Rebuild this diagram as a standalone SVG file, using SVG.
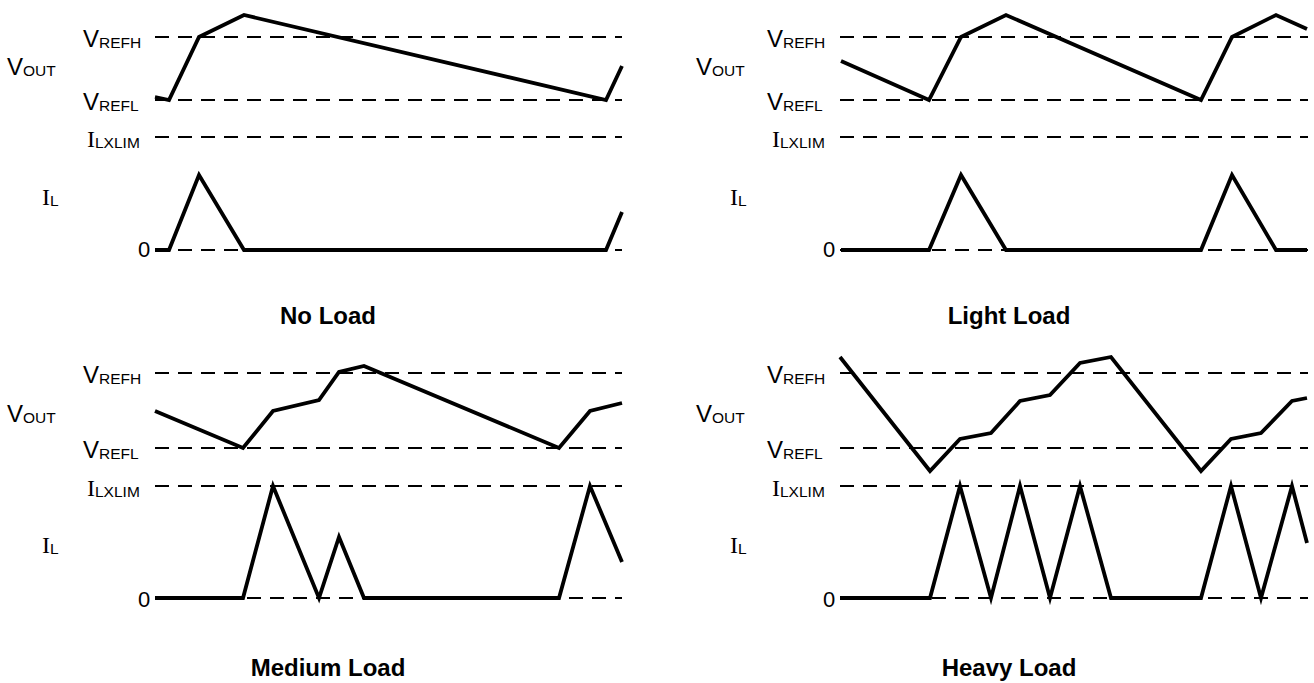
<svg xmlns="http://www.w3.org/2000/svg" width="1314" height="683" viewBox="0 0 1314 683">
<style>
.bg{fill:#fff}
.dash{stroke:#000;stroke-width:2;stroke-dasharray:14 9;fill:none}
.wave{stroke:#000;stroke-width:3.8;fill:none;stroke-linejoin:miter;stroke-linecap:butt}
.lbl{font-family:"Liberation Sans",Arial,sans-serif;font-size:24px;fill:#000}
.zero{font-family:"Liberation Sans",Arial,sans-serif;font-size:22px;fill:#000}
.ser{font-family:"Liberation Serif","Times New Roman",serif;font-size:24px}
.sub{font-size:15.5px}
.title{font-family:"Liberation Sans",Arial,sans-serif;font-size:24px;font-weight:bold;fill:#000;text-anchor:middle}
</style>
<rect class="bg" x="0" y="0" width="1314" height="683"/>

<g id="panel-no-load">
  <g class="labels">
    <text class="lbl" x="7" y="75">V<tspan class="sub" dy="1">OUT</tspan></text>
    <text class="lbl" x="83" y="47">V<tspan class="sub" dy="1">REFH</tspan></text>
    <text class="lbl" x="83" y="110">V<tspan class="sub" dy="1">REFL</tspan></text>
    <text class="lbl" x="87" y="147"><tspan class="ser">I</tspan><tspan class="sub" dy="1">LXLIM</tspan></text>
    <text class="lbl" x="42" y="205"><tspan class="ser">I</tspan><tspan class="sub" dy="1">L</tspan></text>
    <text class="zero" x="138" y="257">0</text>
  </g>
  <g class="refs">
    <line class="dash" x1="155" y1="37" x2="622" y2="37"/>
    <line class="dash" x1="155" y1="100" x2="622" y2="100"/>
    <line class="dash" x1="155" y1="137" x2="622" y2="137"/>
    <line class="dash" x1="155" y1="250" x2="622" y2="250"/>
  </g>
  <polyline class="wave" points="155,97 169,100 199,37 244,15 606,100 622,66"/>
  <polyline class="wave" points="155,250 169,250 199,175 244,250 606,250 622,212"/>
  <text class="title" x="328" y="324">No Load</text>
</g>

<g id="panel-light-load">
  <g class="labels">
    <text class="lbl" x="696" y="75">V<tspan class="sub" dy="1">OUT</tspan></text>
    <text class="lbl" x="767" y="47">V<tspan class="sub" dy="1">REFH</tspan></text>
    <text class="lbl" x="767" y="110">V<tspan class="sub" dy="1">REFL</tspan></text>
    <text class="lbl" x="772" y="147"><tspan class="ser">I</tspan><tspan class="sub" dy="1">LXLIM</tspan></text>
    <text class="lbl" x="730" y="205"><tspan class="ser">I</tspan><tspan class="sub" dy="1">L</tspan></text>
    <text class="zero" x="823" y="257">0</text>
  </g>
  <g class="refs">
    <line class="dash" x1="840" y1="37" x2="1308" y2="37"/>
    <line class="dash" x1="840" y1="100" x2="1308" y2="100"/>
    <line class="dash" x1="840" y1="137" x2="1308" y2="137"/>
    <line class="dash" x1="840" y1="250" x2="1308" y2="250"/>
  </g>
  <polyline class="wave" points="841,61 929,100 961,37 1006,15 1201,100 1232,37 1276,15 1307,29"/>
  <polyline class="wave" points="841,250 929,250 961,175 1006,250 1201,250 1232,175 1276,250 1307,250"/>
  <text class="title" x="1009" y="324">Light Load</text>
</g>

<g id="panel-medium-load">
  <g class="labels">
    <text class="lbl" x="7" y="422">V<tspan class="sub" dy="1">OUT</tspan></text>
    <text class="lbl" x="83" y="383">V<tspan class="sub" dy="1">REFH</tspan></text>
    <text class="lbl" x="83" y="458">V<tspan class="sub" dy="1">REFL</tspan></text>
    <text class="lbl" x="87" y="496"><tspan class="ser">I</tspan><tspan class="sub" dy="1">LXLIM</tspan></text>
    <text class="lbl" x="42" y="553"><tspan class="ser">I</tspan><tspan class="sub" dy="1">L</tspan></text>
    <text class="zero" x="138" y="607">0</text>
  </g>
  <g class="refs">
    <line class="dash" x1="155" y1="373" x2="622" y2="373"/>
    <line class="dash" x1="155" y1="448" x2="622" y2="448"/>
    <line class="dash" x1="155" y1="486" x2="622" y2="486"/>
    <line class="dash" x1="155" y1="598" x2="622" y2="598"/>
  </g>
  <polyline class="wave" points="155,411 243,448 273,411 319,400 339,372 364,366 559,448 590,411 622,403"/>
  <polyline class="wave" points="155,598 243,598 273,486 319,598 339,537 364,598 559,598 590,486 622,562"/>
  <text class="title" x="328" y="676">Medium Load</text>
</g>

<g id="panel-heavy-load">
  <g class="labels">
    <text class="lbl" x="696" y="422">V<tspan class="sub" dy="1">OUT</tspan></text>
    <text class="lbl" x="767" y="383">V<tspan class="sub" dy="1">REFH</tspan></text>
    <text class="lbl" x="767" y="458">V<tspan class="sub" dy="1">REFL</tspan></text>
    <text class="lbl" x="772" y="496"><tspan class="ser">I</tspan><tspan class="sub" dy="1">LXLIM</tspan></text>
    <text class="lbl" x="730" y="553"><tspan class="ser">I</tspan><tspan class="sub" dy="1">L</tspan></text>
    <text class="zero" x="823" y="607">0</text>
  </g>
  <g class="refs">
    <line class="dash" x1="840" y1="373" x2="1308" y2="373"/>
    <line class="dash" x1="840" y1="448" x2="1308" y2="448"/>
    <line class="dash" x1="840" y1="486" x2="1308" y2="486"/>
    <line class="dash" x1="840" y1="598" x2="1308" y2="598"/>
  </g>
  <polyline class="wave" points="840,357 930,471 960,439 991,433 1020,401 1050,395 1080,363 1111,357 1201,471 1231,439 1261,433 1292,401 1307,398"/>
  <polyline class="wave" points="840,598 930,598 960,486 991,598 1020,486 1050,598 1080,486 1111,598 1201,598 1231,486 1261,598 1292,486 1307,543"/>
  <text class="title" x="1009" y="676">Heavy Load</text>
</g>
</svg>
